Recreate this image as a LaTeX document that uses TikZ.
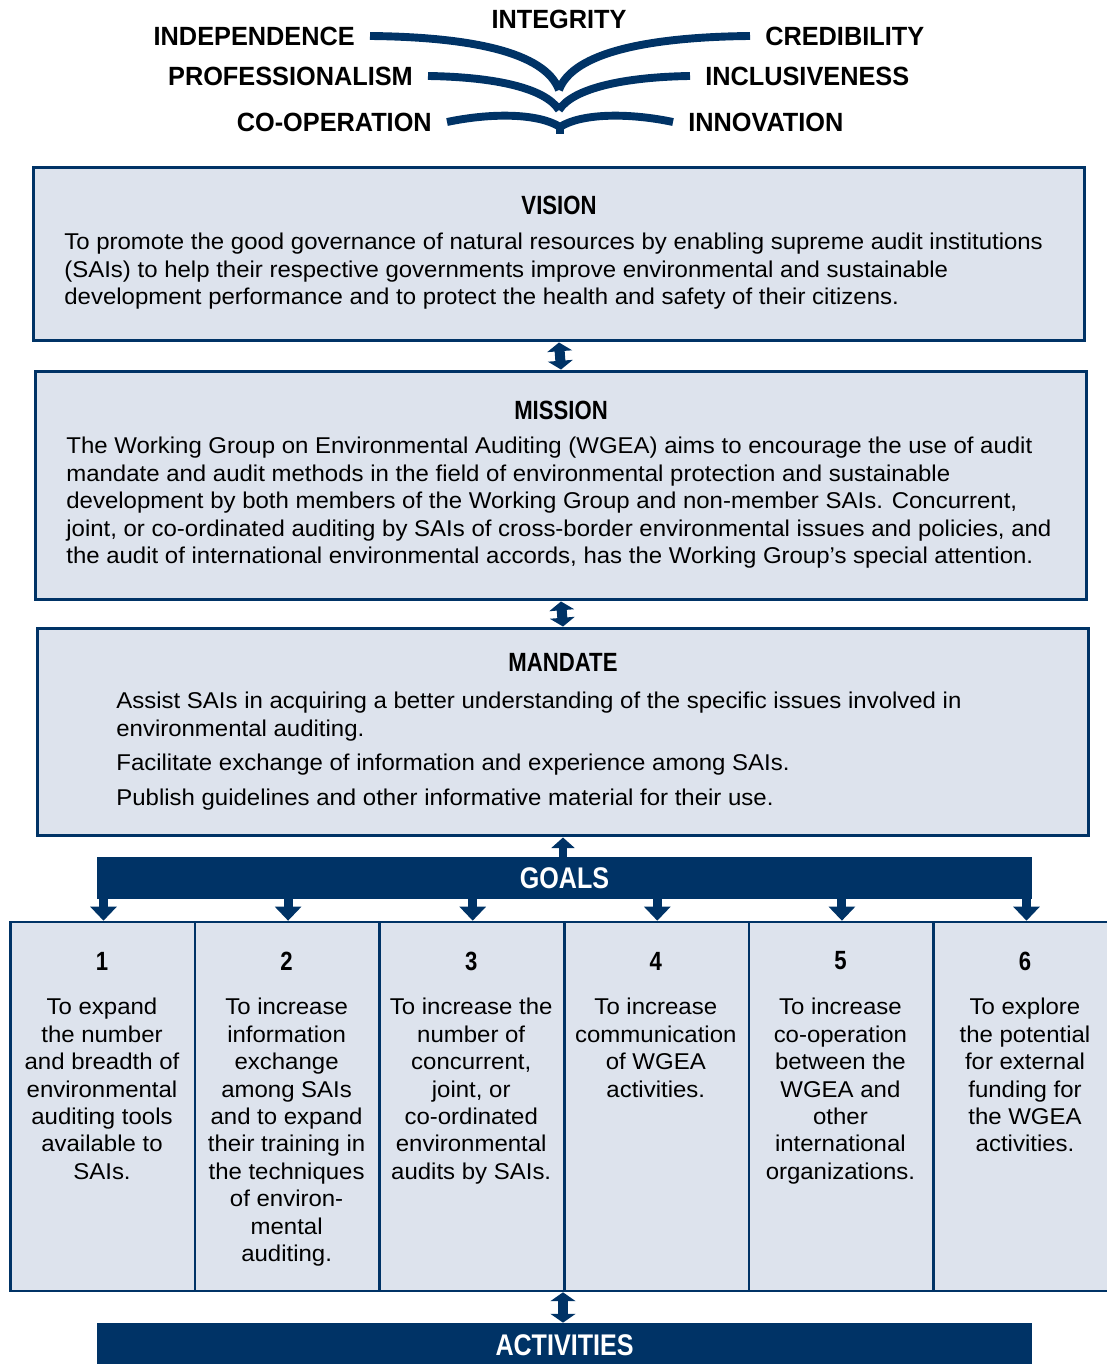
\documentclass[tikz,border=0pt]{standalone}
\usepackage{fontspec}
\setmainfont[FakeStretch=1.05]{Liberation Sans}
\newfontfamily\narrowfont[FakeStretch=0.84]{Liberation Sans}
\newfontfamily\valuefont[FakeStretch=0.96]{Liberation Sans}
\usetikzlibrary{arrows.meta}
\usetikzlibrary{positioning}

\definecolor{wgeablue}{RGB}{0,51,102}
\definecolor{dotfill}{RGB}{221,227,237}

\begin{document}
\begin{tikzpicture}[x=0.02cm,y=-0.02cm,
  panel/.style={draw=wgeablue,line width=1.7pt,fill=dotfill,inner sep=0,minimum width=21.04cm},
  goalbox/.style={draw=wgeablue,line width=1.5pt,fill=dotfill,inner sep=0,minimum width=3.72cm,minimum height=7.38cm},
  bar/.style={fill=wgeablue,text=white,inner sep=0,minimum width=18.7cm,font=\narrowfont\bfseries\fontsize{17}{20}\selectfont},
  head/.style={font=\narrowfont\bfseries\fontsize{15}{18}\selectfont},
  value/.style={font=\valuefont\bfseries\fontsize{15}{18}\selectfont,inner sep=8.5pt},
  body/.style={font=\fontsize{13}{15.6}\selectfont,inner sep=0,align=left,anchor=north west},
  goaltext/.style={font=\fontsize{13}{15.6}\selectfont,inner sep=0,align=center,anchor=north},
  stem/.style={draw=wgeablue,line width=4.5pt},
  twoway/.style={draw=wgeablue,line width=5.7pt,{Triangle[width=14pt,length=5pt]}-{Triangle[width=14pt,length=5pt]}},
  oneway/.style={draw=wgeablue,line width=5.1pt,-{Triangle[width=14.7pt,length=8pt]}},
  upway/.style={draw=wgeablue,line width=5.1pt,-{Triangle[width=13pt,length=6pt]}}]

\useasboundingbox (0,0) rectangle (1106,1364);

% values
\node [value] (integrity) at (559,19) {INTEGRITY};
\node [value,anchor=east] (independence) at (370,36) {INDEPENDENCE};
\node [value,anchor=west] (credibility) at (750,36) {CREDIBILITY};
\node [value,anchor=east] (professionalism) at (428,76) {PROFESSIONALISM};
\node [value,anchor=west] (inclusiveness) at (690,76) {INCLUSIVENESS};
\node [value,anchor=east] (cooperation) at (447,122) {CO-OPERATION};
\node [value,anchor=west] (innovation) at (673,122) {INNOVATION};

\coordinate (topjoin) at (559,90);
\coordinate (midjoin) at (559,110);
\coordinate (lowjoin) at (560,127);
\coordinate (stemfoot) at (560,134);

\draw [stem] (independence.east) .. controls (470,37) and (545,52) .. (topjoin);
\draw [stem] (credibility.west) .. controls (650,37) and (573,52) .. (topjoin);
\draw [stem] (professionalism.east) .. controls (495,77) and (545,88) .. (midjoin);
\draw [stem] (inclusiveness.west) .. controls (625,77) and (573,88) .. (midjoin);
\draw [stem] (cooperation.east) .. controls (495,112) and (540,114) .. (lowjoin);
\draw [stem] (innovation.west) .. controls (625,112) and (580,114) .. (lowjoin);
\draw [stem] (lowjoin) -- (stemfoot);

% vision, mission, mandate
\node [panel,minimum height=3.48cm] (vision) at (559,254) {};
\node [head] (visiontitle) at (559,205) {VISION};
\node [body] (visiontext) at (64,233) {To promote the good governance of natural resources by enabling supreme audit institutions\\(SAIs) to help their respective governments improve environmental and sustainable\\development performance and to protect the health and safety of their citizens.};

\node [panel,minimum height=4.58cm] (mission) at (561,485.5) {};
\node [head] (missiontitle) at (561,410) {MISSION};
\node [body] (missiontext) at (66,437) {The Working Group on Environmental Auditing (WGEA) aims to encourage the use of audit\\mandate and audit methods in the field of environmental protection and sustainable\\development by both members of the Working Group and non-member SAIs. Concurrent,\\joint, or co-ordinated auditing by SAIs of cross-border environmental issues and policies, and\\the audit of international environmental accords, has the Working Group's special attention.};

\node [panel,minimum height=4.16cm] (mandate) at (563,732) {};
\node [head] (mandatetitle) at (563,662) {MANDATE};
\node [body] (mandatetext) at (116,692) {Assist SAIs in acquiring a better understanding of the specific issues involved in\\environmental auditing.\\[4pt]Facilitate exchange of information and experience among SAIs.\\[4pt]Publish guidelines and other informative material for their use.};

\draw [twoway] (vision.south) -- (mission.north);
\draw [twoway] (mission.south) -- (mandate.north);

% goals
\node [bar,minimum height=0.84cm] (goals) at (564.5,878) {GOALS};
\draw [upway] (goals.north -| mandate) -- (mandate.south);

\foreach \i/\txt in {1/{To expand\\the number\\and breadth of\\environmental\\auditing tools\\available to\\SAIs.},
  2/{To increase\\information\\exchange\\among SAIs\\and to expand\\their training in\\the techniques\\of environ-\\mental\\auditing.},
  3/{To increase the\\number of\\concurrent,\\joint, or\\co-ordinated\\environmental\\audits by SAIs.},
  4/{To increase\\communication\\of WGEA\\activities.},
  5/{To increase\\co-operation\\between the\\WGEA and\\other\\international\\organizations.},
  6/{To explore\\the potential\\for external\\funding for\\the WGEA\\activities.}}
{
  \node [goalbox] (g\i) at ({103.5+184.6*(\i-1)},1106.5) {};
  \node [head] (n\i) at ({102+184.6*(\i-1)},961) {\i};
  \node [goaltext] (t\i) at ({102+184.6*(\i-1)},998) {\txt};
  \draw [oneway] (goals.south -| g\i.north) -- (g\i.north);
}

% activities
\node [bar,minimum height=0.9cm] (activities) at (564.5,1345.5) {ACTIVITIES};
\draw [twoway] (g4.south west) -- (activities.north -| g4.south west);

\end{tikzpicture}
\end{document}
